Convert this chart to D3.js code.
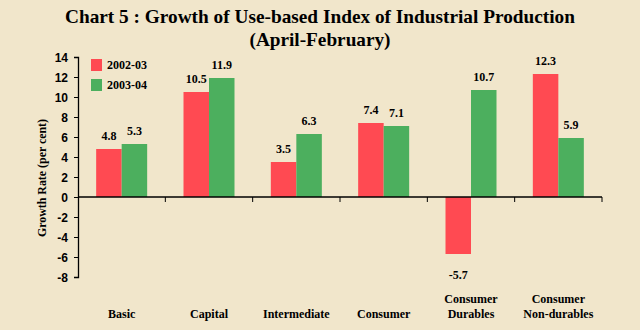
<!DOCTYPE html>
<html>
<head>
<meta charset="utf-8">
<script src="https://cdn.jsdelivr.net/npm/d3@7"></script>
<style>
  body { margin: 0; background: #f1e6cb; }
  svg { display: block; font-family: "Liberation Serif", "Times New Roman", serif; font-weight: bold; }
</style>
</head>
<body>
<div id="chart"></div>
<script>
var categories = [["Basic"], ["Capital"], ["Intermediate"], ["Consumer"], ["Consumer", "Durables"], ["Consumer", "Non-durables"]];
var seriesNames = ["2002-03", "2003-04"];
var values2002 = [4.8, 10.5, 3.5, 7.4, -5.7, 12.3];
var values2003 = [5.3, 11.9, 6.3, 7.1, 10.7, 5.9];
var yTicks = [-8, -6, -4, -2, 0, 2, 4, 6, 8, 10, 12, 14];
var colors = ["#ff4a52", "#4caf5e"];

var width = 640, height = 330;
var svg = d3.select("#chart").append("svg")
  .attr("width", width)
  .attr("height", height);

svg.append("rect").attr("width", width).attr("height", height).attr("fill", "#f1e6cb");

// title
svg.append("text")
  .attr("x", 320).attr("y", 23)
  .attr("text-anchor", "middle")
  .attr("font-size", 19.5)
  .attr("textLength", 510)
  .attr("lengthAdjust", "spacingAndGlyphs")
  .text("Chart 5 : Growth of Use-based Index of Industrial Production");
svg.append("text")
  .attr("x", 320).attr("y", 45.5)
  .attr("text-anchor", "middle")
  .attr("font-size", 19.5)
  .attr("textLength", 141)
  .attr("lengthAdjust", "spacingAndGlyphs")
  .text("(April-February)");

var x0 = d3.scaleBand().domain(d3.range(categories.length)).range([78, 602]).paddingInner(0).paddingOuter(0);
var x1 = d3.scaleBand().domain([0, 1]).range([0, 51]);
var y = d3.scaleLinear().domain([-8, 14]).range([277, 57]);

var data = [values2002, values2003];

// bars
var groups = svg.selectAll("g.grp").data(categories).enter().append("g")
  .attr("class", "grp")
  .attr("transform", function(d, i) { return "translate(" + (x0(i) + x0.bandwidth() / 2 - 25.5) + ",0)"; });

groups.each(function(c, i) {
  var g = d3.select(this);
  data.forEach(function(series, s) {
    var v = series[i];
    g.append("rect")
      .attr("x", x1(s))
      .attr("width", x1.bandwidth())
      .attr("y", y(Math.max(0, v)))
      .attr("height", Math.abs(y(v) - y(0)))
      .attr("fill", colors[s]);
    g.append("text")
      .attr("x", x1(s) + x1.bandwidth() / 2)
      .attr("y", v >= 0 ? y(v) - 9 : y(v) + 25)
      .attr("text-anchor", "middle")
      .attr("font-size", 12)
      .text(v.toFixed(1));
  });
});

// y axis
var yAxis = svg.append("g")
  .attr("transform", "translate(78,0)")
  .call(d3.axisLeft(y).tickValues(yTicks).tickSize(4).tickFormat(function(d) { return String(d); }));
yAxis.select(".domain").attr("stroke", "#000").attr("stroke-width", 1.3);
yAxis.selectAll("text").attr("font-size", 12).attr("font-family", null).attr("x", -10).attr("dy", "0.35em");

// x axis at zero
var xAxis = svg.append("g").attr("transform", "translate(0," + y(0) + ")");
xAxis.append("line").attr("x1", 78).attr("x2", 602).attr("stroke", "#000").attr("stroke-width", 1.3);
xAxis.selectAll("line.tk").data(d3.range(1, categories.length + 1)).enter().append("line")
  .attr("class", "tk")
  .attr("x1", function(d) { return x0.range()[0] + d * x0.step(); })
  .attr("x2", function(d) { return x0.range()[0] + d * x0.step(); })
  .attr("y1", 0).attr("y2", 5)
  .attr("stroke", "#000");

// category labels
categories.forEach(function(lines, i) {
  var cx = x0(i) + x0.bandwidth() / 2;
  lines.forEach(function(t, k) {
    svg.append("text")
      .attr("x", cx)
      .attr("y", 318 - (lines.length - 1 - k) * 15)
      .attr("text-anchor", "middle")
      .attr("font-size", 12)
      .text(t);
  });
});

// y axis title
svg.append("text")
  .attr("transform", "translate(46,178) rotate(-90)")
  .attr("text-anchor", "middle")
  .attr("font-size", 12)
  .attr("textLength", 118)
  .attr("lengthAdjust", "spacingAndGlyphs")
  .text("Growth Rate (per cent)");

// legend
seriesNames.forEach(function(n, i) {
  svg.append("rect").attr("x", 91).attr("y", 59 + i * 20).attr("width", 11).attr("height", 12).attr("fill", colors[i]);
  svg.append("text").attr("x", 107).attr("y", 69 + i * 20).attr("font-size", 12).text(n);
});
</script>
</body>
</html>
